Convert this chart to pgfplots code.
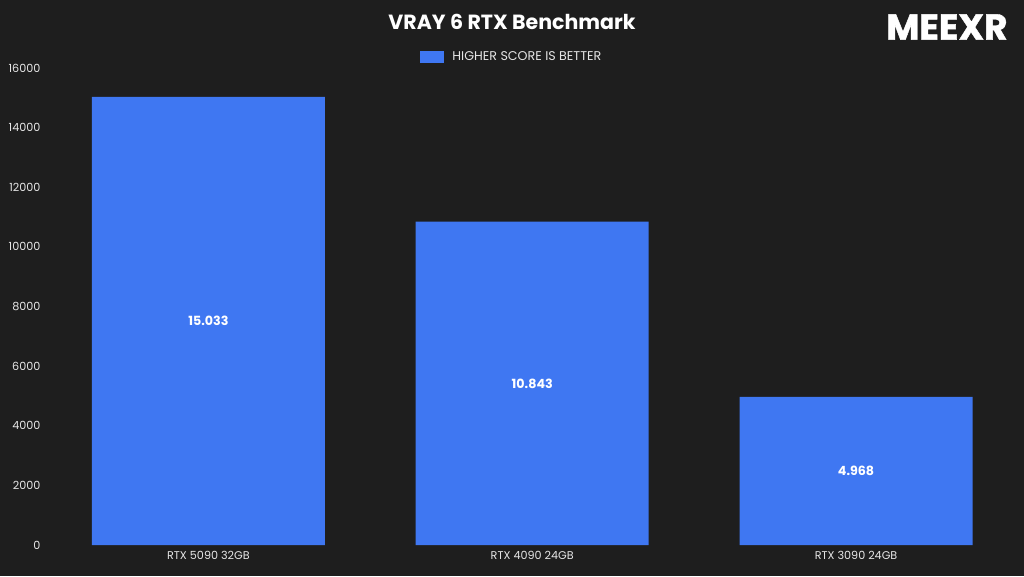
\documentclass[border=0pt]{standalone}
\usepackage{pgfplots}
\pgfplotsset{compat=1.18}
\usepackage{fontspec}
\setmainfont{Poppins}
\newfontfamily\logofont[FakeBold=1.2]{Poppins Bold}
\definecolor{bg}{HTML}{1E1E1E}
\definecolor{barblue}{HTML}{3F77F2}
\definecolor{txt}{HTML}{E6E6E6}
\begin{document}
\begin{tikzpicture}[x=0.75pt,y=0.75pt]
  % background, same size as the reference (px units)
  \useasboundingbox (0,0) rectangle (1024,576);
  \fill[bg] (0,0) rectangle (1024,576);
  \node[text=white,font=\fontsize{15.4}{17}\selectfont\bfseries] at (512,554) {VRAY 6 RTX Benchmark};
  \node[text=white,font=\fontsize{27}{29}\selectfont\logofont] at (947,549) {MEEXR};
  \begin{axis}[
      at={(34.875pt,23.25pt)}, anchor=south west,
      scale only axis,
      width=728.6pt, height=357.75pt,
      xmin=-0.5, xmax=2.5,
      ymin=0, ymax=16000,
      ytick={0,2000,...,16000},
      xtick={0,1,2},
      xticklabels={RTX 5090 32GB, RTX 4090 24GB, RTX 3090 24GB},
      axis line style={draw=none},
      major tick length=0pt,
      scaled y ticks=false,
      /pgf/number format/assume math mode=true,
      /pgf/number format/1000 sep={},
      tick label style={text=txt, font=\fontsize{8.4}{10}\selectfont},
      yticklabel style={xshift=-1pt},
      xticklabel style={yshift=-1pt},
      legend style={at={(0.5,1)}, anchor=south, xshift=-15pt, yshift=-0.3pt,
        draw=none, fill=none, text=txt,
        font=\fontsize{9.5}{11}\selectfont},
      legend image code/.code={\fill[barblue] (0pt,-4.5pt) rectangle (18pt,4.5pt);},
      clip=false,
    ]
    \addplot[ybar, bar width=174.75pt, fill=barblue, draw=none]
      coordinates {(0,15033) (1,10843) (2,4968)};
    \addlegendentry{\hspace{4pt}HIGHER SCORE IS BETTER}
    % value labels, set at half height of each bar
    \addplot[draw=none, mark=none, forget plot,
      nodes near coords, point meta=explicit symbolic,
      every node near coord/.style={anchor=center, text=white,
        font=\fontsize{9.5}{11}\selectfont\bfseries}]
      coordinates {(0,7516.5)[15.033] (1,5421.5)[10.843] (2,2484)[4.968]};
  \end{axis}
\end{tikzpicture}
\end{document}
